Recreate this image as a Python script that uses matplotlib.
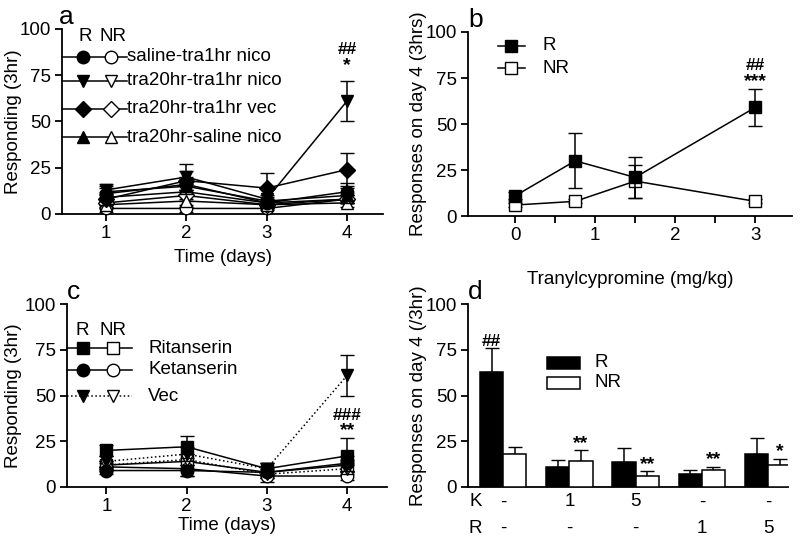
import matplotlib
matplotlib.use("Agg")
import matplotlib.pyplot as plt
from matplotlib.patches import Rectangle
import numpy as np

plt.rcParams['font.family'] = ['Liberation Sans', 'DejaVu Sans']
FS = 13.5
plt.rcParams['font.size'] = FS

# ---------------- Panel a data ----------------
days = [1, 2, 3, 4]
a_labels = ["saline-tra1hr nico", "tra20hr-tra1hr nico", "tra20hr-tra1hr vec", "tra20hr-saline nico"]
a_markers = ["o", "v", "D", "^"]
a_R = [[11, 16, 6, 12], [13, 20, 8, 61], [8, 18, 14, 24], [12, 15, 7, 10]]
a_R_err = [[3, 4, 2, 5], [3, 7, 2, 11], [3, 5, 8, 9], [3, 4, 2, 4]]
a_NR = [[3, 3, 3, 8], [9, 12, 6, 8], [6, 10, 5, 8], [5, 7, 5, 6]]
a_NR_err = [[2, 2, 1, 2], [3, 4, 2, 2], [2, 3, 2, 2], [2, 3, 2, 2]]

# ---------------- Panel b data ----------------
tcp_dose = [0, 0.75, 1.5, 3]
b_R = [11, 30, 21, 59]
b_R_err = [2, 15, 11, 10]
b_NR = [6, 8, 19, 8]
b_NR_err = [1, 1, 9, 1]

# ---------------- Panel c data ----------------
c_labels = ["Ritanserin", "Ketanserin", "Vec"]
c_markers = ["s", "o", "v"]
c_styles = ["-", "-", ":"]
c_R = [[20, 22, 10, 17], [9, 9, 8, 13], [14, 18, 10, 61]]
c_R_err = [[3, 6, 3, 10], [2, 3, 2, 4], [3, 4, 3, 11]]
c_NR = [[12, 14, 8, 12], [11, 10, 6, 6], [12, 15, 7, 10]]
c_NR_err = [[2, 4, 3, 3], [2, 4, 3, 2], [2, 3, 2, 2]]

# ---------------- Panel d data ----------------
K_doses = ["-", "1", "5", "-", "-"]
R_doses = ["-", "-", "-", "1", "5"]
d_R = [63, 11, 13.5, 7, 18]
d_R_err = [13, 3.5, 8, 2.5, 9]
d_NR = [18, 14, 6, 9.5, 12]
d_NR_err = [4, 6, 2.5, 1.5, 3.5]
d_sig = ["", "**", "**", "**", "*"]

fig = plt.figure(figsize=(8, 5.47), dpi=100)

ax_a = fig.add_axes([0.0775, 0.6088, 0.4013, 0.3382])
ax_b = fig.add_axes([0.585, 0.605, 0.405, 0.3365])
ax_c = fig.add_axes([0.084, 0.1097, 0.40, 0.3343])
ax_d = fig.add_axes([0.585, 0.1097, 0.40, 0.3343])

def style(ax):
    for s in ["top", "right"]:
        ax.spines[s].set_visible(False)
    for s in ["left", "bottom"]:
        ax.spines[s].set_linewidth(1.3)
    ax.tick_params(direction="out", length=5, width=1.3, labelsize=FS, pad=3)
    ax.set_ylim(0, 100)
    ax.set_yticks([0, 25, 50, 75, 100])

ms = 9
lw = 1.1

# ---- a ----
style(ax_a)
for i in range(4):
    mk = a_markers[i]
    msz = ms - 1 if mk == "D" else ms
    ax_a.errorbar(days, a_NR[i], yerr=a_NR_err[i], color="black", lw=lw, marker=mk,
                  ms=msz, mfc="white", mec="black", capsize=5, elinewidth=1.1, clip_on=False, zorder=3)
    ax_a.errorbar(days, a_R[i], yerr=a_R_err[i], color="black", lw=lw, marker=mk,
                  ms=msz, mfc="black", mec="black", capsize=5, elinewidth=1.1, clip_on=False, zorder=4)
ax_a.set_xlim(0.45, 4.45)
ax_a.set_xticks(days)
ax_a.set_xlabel("Time (days)", fontsize=FS)
ax_a.set_ylabel("Responding (3hr)", fontsize=FS)
ax_a.xaxis.set_label_coords(0.5, -0.19)
ax_a.yaxis.set_label_coords(-0.125, 0.5)
ax_a.text(-0.01, 1.0, "a", transform=ax_a.transAxes, fontsize=19, ha="left", va="bottom")
ax_a.text(0.072, 0.962, "R", transform=ax_a.transAxes, ha="center", va="center", fontsize=FS)
ax_a.text(0.16, 0.962, "NR", transform=ax_a.transAxes, ha="center", va="center", fontsize=FS)
for i, yy in enumerate([0.849, 0.719, 0.568, 0.416]):
    mk = a_markers[i]
    msz = ms - 1 if mk == "D" else ms
    ax_a.plot([0, 0.2025], [yy, yy], color="black", lw=lw, transform=ax_a.transAxes, clip_on=False)
    ax_a.plot([0.065], [yy], marker=mk, ms=msz, mfc="black", mec="black", transform=ax_a.transAxes, clip_on=False)
    ax_a.plot([0.153], [yy], marker=mk, ms=msz, mfc="white", mec="black", transform=ax_a.transAxes, clip_on=False)
    ax_a.text(0.2025, yy, a_labels[i], transform=ax_a.transAxes, ha="left", va="center", fontsize=FS)
ax_a.text(4, 89, "##", ha="center", va="center", fontsize=12.5, fontweight="bold")
ax_a.text(4, 80, "*", ha="center", va="center", fontsize=14, fontweight="bold")

# ---- b ----
style(ax_b)
ax_b.errorbar(tcp_dose, b_NR, yerr=b_NR_err, color="black", lw=lw, marker="s", ms=ms,
              mfc="white", mec="black", capsize=5, elinewidth=1.1, clip_on=False, zorder=3)
ax_b.errorbar(tcp_dose, b_R, yerr=b_R_err, color="black", lw=lw, marker="s", ms=ms,
              mfc="black", mec="black", capsize=5, elinewidth=1.1, clip_on=False, zorder=4)
ax_b.set_xlim(-0.59, 3.46)
ax_b.set_xticks([0, 1, 2, 3])
ax_b.set_xticks([0.5, 1.5, 2.5], minor=True)
ax_b.tick_params(which="minor", direction="out", length=5, width=1.3)
ax_b.set_xlabel("Tranylcypromine (mg/kg)", fontsize=FS)
ax_b.set_ylabel("Responses on day 4 (3hrs)", fontsize=FS)
ax_b.xaxis.set_label_coords(0.5, -0.30)
ax_b.yaxis.set_label_coords(-0.127, 0.5)
ax_b.text(0.0, 1.0, "b", transform=ax_b.transAxes, fontsize=19, ha="left", va="bottom")
for yy, fc, lab in [(0.924, "black", "R"), (0.804, "white", "NR")]:
    ax_b.plot([0.093, 0.176], [yy, yy], color="black", lw=lw, transform=ax_b.transAxes, clip_on=False)
    ax_b.plot([0.133], [yy], marker="s", ms=ms, mfc=fc, mec="black", transform=ax_b.transAxes, clip_on=False)
    ax_b.text(0.231, yy, lab, transform=ax_b.transAxes, ha="left", va="center", fontsize=FS)
ax_b.text(3, 82, "##", ha="center", va="center", fontsize=12.5, fontweight="bold")
ax_b.text(3, 73, "***", ha="center", va="center", fontsize=14, fontweight="bold")

# ---- c ----
style(ax_c)
for i in range(3):
    mk = c_markers[i]
    ax_c.errorbar(days, c_NR[i], yerr=c_NR_err[i], color="black", lw=lw, ls=c_styles[i], marker=mk,
                  ms=ms, mfc="white", mec="black", capsize=5, elinewidth=1.1, clip_on=False, zorder=3)
    ax_c.errorbar(days, c_R[i], yerr=c_R_err[i], color="black", lw=lw, ls=c_styles[i], marker=mk,
                  ms=ms, mfc="black", mec="black", capsize=5, elinewidth=1.1, clip_on=False, zorder=4)
ax_c.set_xlim(0.51, 4.5)
ax_c.set_xticks(days)
ax_c.set_xlabel("Time (days)", fontsize=FS)
ax_c.set_ylabel("Responding (3hr)", fontsize=FS)
ax_c.xaxis.set_label_coords(0.5, -0.165)
ax_c.yaxis.set_label_coords(-0.14, 0.5)
ax_c.text(0.0, 1.0, "c", transform=ax_c.transAxes, fontsize=19, ha="left", va="bottom")
ax_c.text(0.047, 0.858, "R", transform=ax_c.transAxes, ha="center", va="center", fontsize=FS)
ax_c.text(0.144, 0.858, "NR", transform=ax_c.transAxes, ha="center", va="center", fontsize=FS)
for i, yy in enumerate([0.76, 0.64, 0.497]):
    mk = c_markers[i]
    ax_c.plot([0, 0.203], [yy, yy], color="black", lw=lw, ls=c_styles[i], transform=ax_c.transAxes, clip_on=False)
    ax_c.plot([0.05], [yy], marker=mk, ms=ms, mfc="black", mec="black", transform=ax_c.transAxes, clip_on=False)
    ax_c.plot([0.144], [yy], marker=mk, ms=ms, mfc="white", mec="black", transform=ax_c.transAxes, clip_on=False)
    ax_c.text(0.253, yy, c_labels[i], transform=ax_c.transAxes, ha="left", va="center", fontsize=FS)
ax_c.text(4, 39, "###", ha="center", va="center", fontsize=12.5, fontweight="bold")
ax_c.text(4, 31, "**", ha="center", va="center", fontsize=14, fontweight="bold")

# ---- d ----
style(ax_d)
xg = np.arange(len(d_R))
bw = 0.35
ax_d.bar(xg - bw / 2, d_R, bw, color="black", edgecolor="black", lw=1.1, zorder=3)
ax_d.errorbar(xg - bw / 2, d_R, yerr=[np.zeros(len(d_R)), d_R_err], fmt="none",
              ecolor="black", capsize=5, elinewidth=1.1, zorder=2)
ax_d.bar(xg + bw / 2, d_NR, bw, color="white", edgecolor="black", lw=1.1, zorder=3)
ax_d.errorbar(xg + bw / 2, d_NR, yerr=[np.zeros(len(d_NR)), d_NR_err], fmt="none",
              ecolor="black", capsize=5, elinewidth=1.1, zorder=2)
ax_d.set_xlim(-0.53, 4.3)
ax_d.set_xticks([])
ax_d.set_ylabel("Responses on day 4 (/3hr)", fontsize=FS)
ax_d.yaxis.set_label_coords(-0.127, 0.5)
ax_d.text(0.0, 1.0, "d", transform=ax_d.transAxes, fontsize=19, ha="left", va="bottom")
tr = ax_d.get_xaxis_transform()
ax_d.text(-0.42, -0.035, "K", transform=tr, ha="center", va="top", fontsize=FS)
ax_d.text(-0.42, -0.18, "R", transform=tr, ha="center", va="top", fontsize=FS)
for i in range(len(xg)):
    ax_d.text(xg[i], -0.035, K_doses[i], transform=tr, ha="center", va="top", fontsize=FS)
    ax_d.text(xg[i], -0.18, R_doses[i], transform=tr, ha="center", va="top", fontsize=FS)
ax_d.text(xg[0] - bw / 2, d_R[0] + d_R_err[0] + 3.5, "##", ha="center", va="center", fontsize=12.5, fontweight="bold")
for i in range(len(xg)):
    if d_sig[i]:
        ax_d.text(xg[i] + bw / 2, d_NR[i] + d_NR_err[i] + 4, d_sig[i], ha="center", va="center",
                  fontsize=14, fontweight="bold")
for yy, fc, lab in [(0.645, "black", "R"), (0.536, "white", "NR")]:
    ax_d.add_patch(Rectangle((0.247, yy), 0.103, 0.068, transform=ax_d.transAxes, facecolor=fc,
                             edgecolor="black", lw=1.1, clip_on=False))
    ax_d.text(0.395, yy + 0.034, lab, transform=ax_d.transAxes, ha="left", va="center", fontsize=FS)

fig.savefig("out.png", dpi=100)
